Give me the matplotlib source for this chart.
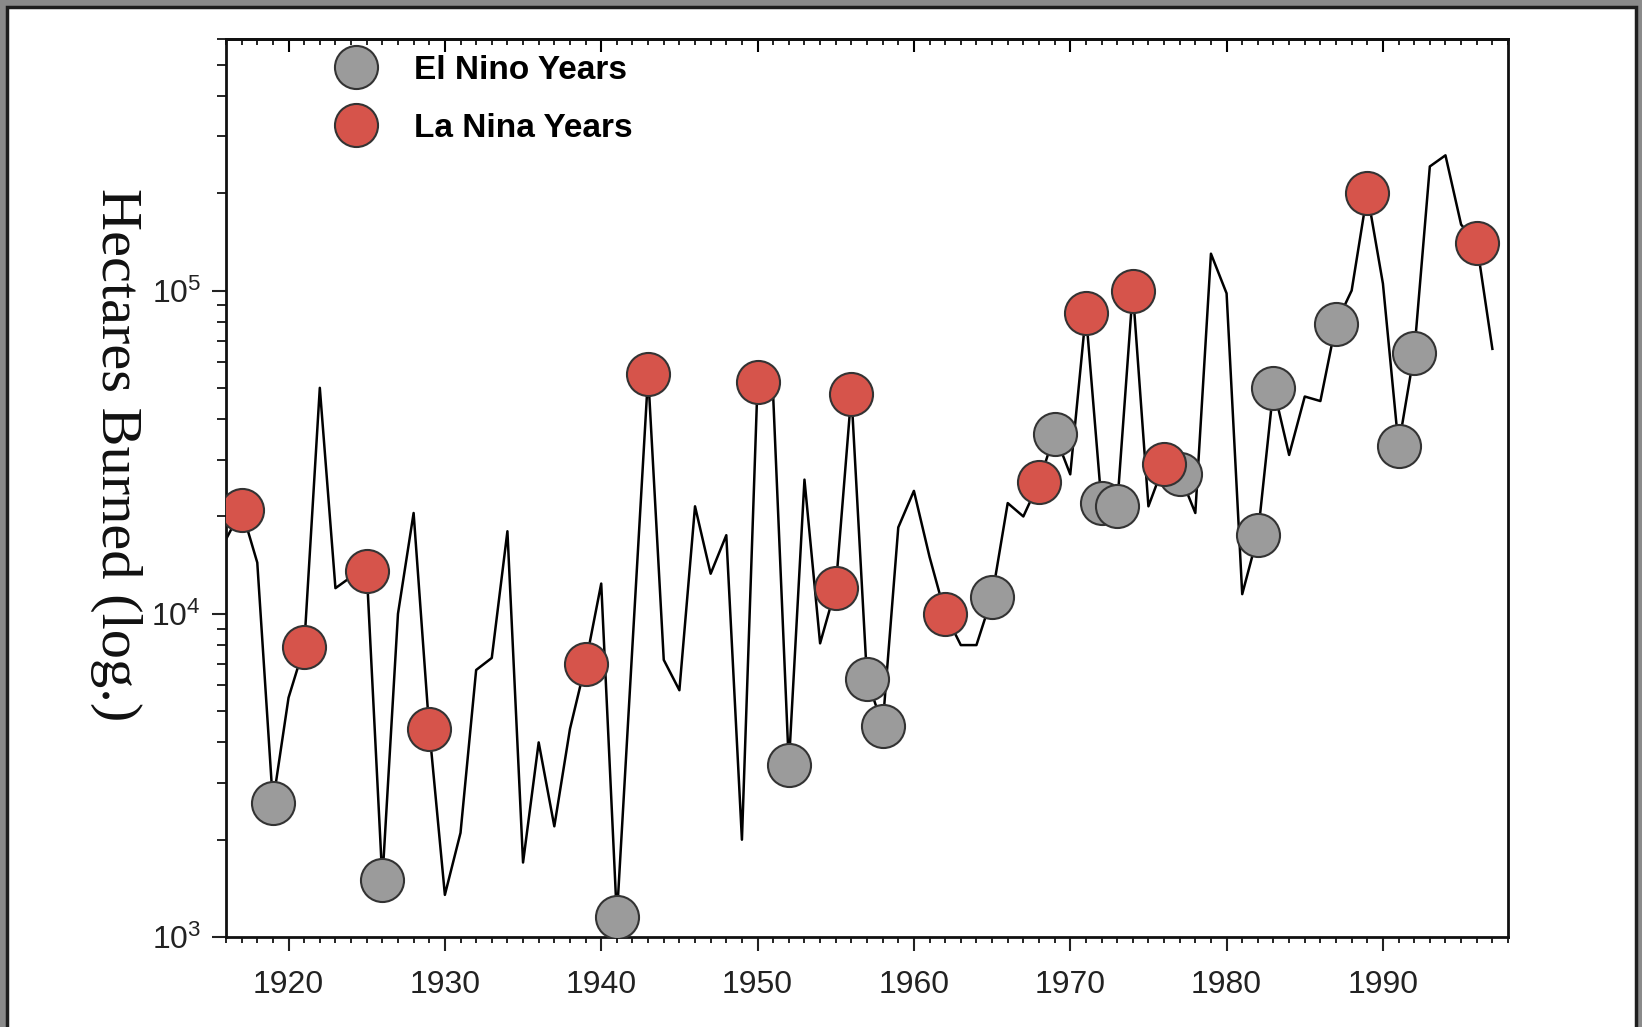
import numpy as np
import matplotlib
matplotlib.use("Agg")
import matplotlib.pyplot as plt
from matplotlib.lines import Line2D
from matplotlib.patches import Rectangle
from matplotlib.ticker import MultipleLocator, LogLocator, NullFormatter, FixedLocator

# ---- data ----
years = list(range(1916, 1998))
hectares = [
    17000, 21000, 14400, 2600, 5500, 7900, 50000, 12000, 13000, 13600,   # 1916-1925
    1500, 10000, 20500, 4400, 1350, 2100, 6700, 7300, 18000, 1700,        # 1926-1935
    4000, 2200, 4400, 7000, 12400, 1150, 8000, 55000, 7200, 5800,         # 1936-1945
    21500, 13300, 17500, 2000, 52000, 47000, 3400, 26000, 8100, 12000,    # 1946-1955
    48000, 6300, 4500, 18500, 24000, 15000, 10000, 8000, 8000, 11300,     # 1956-1965
    22000, 20000, 25500, 36000, 27000, 85000, 22000, 21500, 100000, 21500,  # 1966-1975
    29000, 27000, 20500, 130000, 98000, 11500, 17500, 50000, 31000, 47000,  # 1976-1985
    45500, 79000, 100000, 200000, 105000, 33000, 64000, 242000, 262000, 160000,  # 1986-1995
    140000, 66000,                                                        # 1996-1997
]
el_nino_years = [1919, 1926, 1941, 1952, 1957, 1958, 1965, 1969, 1972, 1973,
                 1977, 1982, 1983, 1987, 1991, 1992]
la_nina_years = [1917, 1921, 1925, 1929, 1939, 1943, 1950, 1955, 1956, 1962,
                 1968, 1971, 1974, 1976, 1989, 1996]
xtick_years = [1920, 1930, 1940, 1950, 1960, 1970, 1980, 1990]
ytick_vals = [1e3, 1e4, 1e5]
ytick_labels = [r"$\mathregular{10^3}$", r"$\mathregular{10^4}$", r"$\mathregular{10^5}$"]

lookup = dict(zip(years, hectares))
el_vals = [lookup[y] for y in el_nino_years]
la_vals = [lookup[y] for y in la_nina_years]

gray = "#9b9b9b"
red = "#d6544b"
edge = "#333333"

plt.rcParams["font.family"] = ["Liberation Sans", "DejaVu Sans"]
plt.rcParams["mathtext.fontset"] = "custom"
plt.rcParams["mathtext.rm"] = "Liberation Sans"

W, H = 1642, 1027
fig = plt.figure(figsize=(W / 100, H / 100), dpi=100, facecolor="#8a8a8a")

# white page with dark border (screenshot frame), kept behind the axes
fig.patches.append(Rectangle((7 / W, -0.02), (1636 - 7) / W, 1.02 - 7 / H,
                             transform=fig.transFigure, facecolor="white",
                             edgecolor="#1e1e1e", linewidth=2.5, zorder=-10))

ax = fig.add_axes([226 / W, 1 - 937 / H, (1508 - 226) / W, (937 - 39) / H])
ax.set_zorder(1)
ax.set_facecolor("white")

ax.plot(years, hectares, color="black", linewidth=1.8, zorder=2)
ax.plot(el_nino_years, el_vals, linestyle="none", marker="o", markersize=31,
        markerfacecolor=gray, markeredgecolor=edge, markeredgewidth=1.5, zorder=3)
ax.plot(la_nina_years, la_vals, linestyle="none", marker="o", markersize=31,
        markerfacecolor=red, markeredgecolor=edge, markeredgewidth=1.5, zorder=4)

ax.set_yscale("log")
ax.set_xlim(1916, 1998)
ax.set_ylim(1e3, 6e5)

ax.set_xticks(xtick_years)
ax.set_xticklabels([str(y) for y in xtick_years])
ax.xaxis.set_minor_locator(MultipleLocator(1))
ax.set_yticks(ytick_vals)
ax.set_yticklabels(ytick_labels)
ax.yaxis.set_minor_locator(LogLocator(base=10, subs=np.arange(2, 10)))
ax.yaxis.set_minor_formatter(NullFormatter())

ax.tick_params(axis="x", which="major", direction="out", length=10, width=1.5,
               labelsize=23, pad=14, colors="#222222", top=False)
ax.tick_params(axis="x", which="minor", direction="out", length=4, width=1.2, top=False)
ax.tick_params(axis="y", which="major", direction="out", length=10, width=1.5,
               labelsize=23, pad=8, colors="#222222", right=False)
ax.tick_params(axis="y", which="minor", direction="out", length=6.5, width=1.2, right=False)

# top axis has inward ticks, no labels
sec = ax.secondary_xaxis("top")
sec.xaxis.set_major_locator(FixedLocator(xtick_years))
sec.xaxis.set_minor_locator(MultipleLocator(1))
sec.tick_params(axis="x", which="major", direction="in", length=9, width=1.5, labeltop=False)
sec.tick_params(axis="x", which="minor", direction="in", length=4.5, width=1.2)
sec.spines["top"].set_linewidth(2)

for side in ["left", "bottom", "right", "top"]:
    ax.spines[side].set_linewidth(2)
    ax.spines[side].set_color("#111111")

# legend
handles = [
    Line2D([], [], linestyle="none", marker="o", markersize=31, markerfacecolor=gray,
           markeredgecolor=edge, markeredgewidth=1.5),
    Line2D([], [], linestyle="none", marker="o", markersize=31, markerfacecolor=red,
           markeredgecolor=edge, markeredgewidth=1.5),
]
leg = ax.legend(handles, ["El Nino Years", "La Nina Years"], loc="upper left",
                bbox_to_anchor=(339 / W, 1 - 55 / H), bbox_transform=fig.transFigure,
                frameon=False, prop={"family": "Liberation Sans", "weight": "bold", "size": 24},
                handlelength=1.0, handletextpad=1.25, labelspacing=0.8,
                borderpad=0, borderaxespad=0)

fig.text(116 / W, 1 - 455 / H, "Hectares Burned (log.)", rotation=270,
         ha="center", va="center", fontsize=42, family="Liberation Serif", color="#111111")

fig.savefig("out.png", dpi=100, facecolor=fig.get_facecolor())
